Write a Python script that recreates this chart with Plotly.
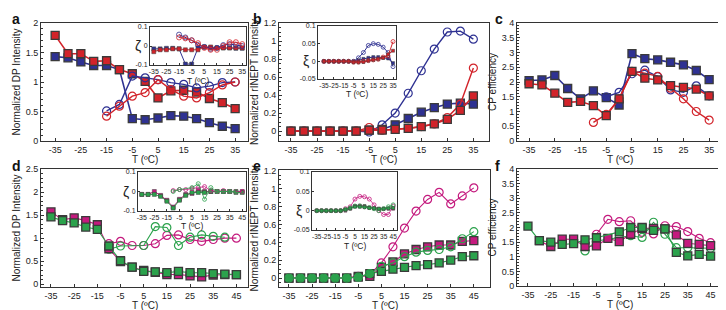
import plotly.graph_objects as go

# ---------------- data ----------------
T35 = [-35, -30, -25, -20, -15, -10, -5, 0, 5, 10, 15, 20, 25, 30, 35]
T35_from_m15 = [-15, -10, -5, 0, 5, 10, 15, 20, 25, 30, 35]
T45 = [-35, -30, -25, -20, -15, -10, -5, 0, 5, 10, 15, 20, 25, 30, 35, 40, 45]

# tick labels (hyphen minus as in the original figure)
X35 = [-35, -25, -15, -5, 5, 15, 25, 35]
X35_text = ["-35", "-25", "-15", "-5", "5", "15", "25", "35"]
X45 = [-35, -25, -15, -5, 5, 15, 25, 35, 45]
X45_text = ["-35", "-25", "-15", "-5", "5", "15", "25", "35", "45"]
Z_ticks = [-0.1, 0, 0.1]
Z_text = ["-0.1", "0", "0.1"]
XI_ticks = [-0.05, 0, 0.05, 0.1]
XI_text = ["-0.05", "0", "0.05", "0.1"]

# panel a: normalized DP intensity
a_blue_sq = [1.43, 1.41, 1.34, 1.28, 1.28, 1.21, 0.38, 0.36, 0.39, 0.43, 0.42, 0.38, 0.31, 0.25, 0.21]
a_red_sq = [1.79, 1.48, 1.48, 1.35, 1.36, 1.21, 1.14, 1.01, 0.73, 0.85, 0.86, 0.83, 0.72, 0.65, 0.55]
a_blue_ci = [0.51, 0.62, 1.10, 1.07, 1.04, 0.99, 0.96, 0.90, 0.93, 0.99, 1.00]
a_red_ci = [0.42, 0.59, 0.76, 0.82, 1.04, 0.87, 0.76, 0.73, 0.82, 0.95, 1.00]

# inset a: zeta
ia_blue_sq = [-0.015, -0.015, -0.012, -0.012, -0.015, -0.095, -0.095, -0.01, -0.005, -0.01, -0.01, -0.01, -0.01, -0.012, -0.012]
ia_red_sq = [-0.03, -0.02, -0.02, -0.015, -0.015, -0.02, -0.02, -0.02, -0.005, -0.005, -0.01, -0.01, -0.01, -0.01, -0.01]
ia_blue_ci = [0.06, 0.045, 0.03, 0.005, -0.005, -0.015, -0.01, 0.005, 0.01, 0.005, 0.0]
ia_red_ci = [0.045, 0.04, 0.03, 0.015, -0.01, -0.02, -0.02, 0.0, 0.02, 0.02, 0.01]

# panel b: normalized rINEPT intensity
b_blue_ci = [0, 0, 0, 0, 0, 0, -0.01, 0.07, 0.20, 0.42, 0.67, 0.91, 1.10, 1.11, 1.02]
b_blue_sq = [0, 0, 0, 0, 0, 0, 0.01, 0.02, 0.07, 0.14, 0.21, 0.26, 0.30, 0.31, 0.30]
b_red_sq = [0, 0, 0, 0, 0, 0, 0.01, 0.01, 0.02, 0.03, 0.05, 0.08, 0.13, 0.23, 0.39]
b_red_ci = [0, 0, 0, 0, 0, 0, 0.04, 0.01, 0.02, 0.03, 0.05, 0.08, 0.15, 0.30, 0.70]

# inset b: xi
ib_blue_ci = [0, 0, 0, 0, 0, 0, 0.0, 0.01, 0.025, 0.045, 0.05, 0.048, 0.04, 0.025, -0.015]
ib_blue_sq = [0, 0, 0, 0, 0, 0, 0.0, 0.003, 0.007, 0.01, 0.012, 0.012, 0.01, 0.008, -0.005]
ib_red_sq = [0, 0, 0, 0, 0, 0, -0.003, -0.003, -0.002, 0.002, 0.004, 0.006, 0.01, 0.02, 0.03]
ib_red_ci = [0, 0, 0, 0, 0, 0, -0.002, -0.002, 0.0, 0.002, 0.004, 0.006, 0.012, 0.015, 0.056]

# panel c: CP efficiency
T_c_blue_ci = [-5, 0, 5, 10, 15, 20, 25, 30, 35]
T_c_red_ci = [-10, -5, 0, 5, 10, 15, 20, 25, 30, 35]
c_blue_sq = [2.05, 2.07, 2.22, 1.78, 1.43, 1.70, 1.47, 1.22, 2.96, 2.79, 2.75, 2.67, 2.58, 2.39, 2.08]
c_red_sq = [1.94, 1.90, 1.62, 1.31, 1.34, 1.20, 0.86, 1.43, 2.36, 2.13, 2.07, 1.88, 1.82, 1.76, 1.53]
c_blue_ci = [1.50, 1.65, 2.28, 2.40, 2.18, 1.73, 1.65, 1.87, 1.53]
c_red_ci = [0.63, 0.90, 1.43, 2.36, 2.30, 2.19, 1.79, 1.43, 1.00, 0.71]

# panel d: normalized DP intensity
T_d_mag_ci = [-10, -5, 0, 5, 10, 15, 20, 25, 30, 35, 40, 45]
T_d_grn_ci = [-10, -5, 5, 10, 15, 20, 25, 30, 35, 40]
d_mag_sq = [1.57, 1.40, 1.44, 1.38, 1.29, 0.77, 0.49, 0.37, 0.30, 0.26, 0.21, 0.21, 0.18, 0.16, 0.20, 0.21, 0.21]
d_grn_sq = [1.46, 1.38, 1.33, 1.24, 1.19, 0.83, 0.51, 0.37, 0.28, 0.27, 0.25, 0.28, 0.25, 0.25, 0.23, 0.22, 0.21]
d_mag_ci = [0.88, 0.93, 0.84, 0.84, 0.88, 1.06, 1.07, 0.97, 0.93, 0.97, 1.00, 1.00]
d_grn_ci = [0.76, 0.83, 0.84, 1.25, 1.23, 0.84, 1.02, 1.07, 1.04, 1.02]

# inset d: zeta
id_mag_sq = [-0.015, -0.015, 0.0, -0.02, -0.045, -0.08, -0.04, -0.015, -0.01, 0.005, 0.0, 0.0, 0.0, 0.0, 0.0, 0.0, 0.0]
id_grn_sq = [-0.015, -0.015, -0.015, -0.025, -0.05, -0.085, -0.045, -0.02, -0.005, -0.005, -0.005, 0.0, 0.0, 0.0, 0.0, -0.005, -0.005]
id_mag_ci = [0.005, 0.01, 0.01, 0.015, 0.02, 0.025, 0.005, 0.0, 0.005, 0.0, 0.0, 0.0]
id_grn_ci = [0.0, 0.01, 0.02, 0.04, -0.04, 0.02, 0.0, 0.0, 0.0, 0.0]

# panel e: normalized rINEPT intensity
e_mag_ci = [0, 0, 0, 0, 0, 0, 0.02, 0.04, 0.17, 0.35, 0.56, 0.75, 0.88, 0.96, 0.83, 0.92, 1.01]
e_mag_sq = [0, 0, 0, 0, 0, 0, 0.02, 0.02, 0.12, 0.18, 0.27, 0.32, 0.35, 0.37, 0.37, 0.41, 0.42]
e_grn_ci = [0, 0, 0, 0, 0, 0, 0.01, 0.05, 0.13, 0.17, 0.24, 0.29, 0.31, 0.32, 0.35, 0.44, 0.52]
e_grn_sq = [0, 0, 0, 0, 0, 0, 0.01, 0.05, 0.075, 0.10, 0.12, 0.14, 0.15, 0.17, 0.20, 0.24, 0.25]

# inset e: xi
ie_mag_ci = [0, 0, 0, 0, 0, 0, 0.005, 0.01, 0.03, 0.037, 0.036, 0.03, 0.015, 0.0, -0.01, -0.01, 0.012]
ie_mag_sq = [0, 0, 0, 0, 0, 0, 0.0, 0.005, 0.012, 0.013, 0.012, 0.008, 0.006, 0.005, 0.005, 0.005, 0.005]
ie_grn_sq = [0, 0, 0, 0, 0, 0, 0.003, 0.006, 0.01, 0.01, 0.009, 0.007, 0.006, 0.005, 0.005, 0.006, 0.007]
ie_grn_ci = [0, 0, 0, 0, 0, 0, 0.003, 0.007, 0.012, 0.012, 0.01, 0.008, 0.005, 0.0, 0.005, 0.01, 0.015]

# panel f: CP efficiency
T_f_grn_sq = [-35, -30, -25, -20, -15, -10, -5, 5, 10, 15, 20, 25, 30, 35, 40, 45]
T_f_mag_sq = [-30, -25, -20, -15, -10, -5, 0, 5, 10, 15, 20, 25, 30, 35, 40, 45]
T_f_mag_ci = [-5, 0, 5, 10, 15, 20, 25, 30, 35, 40, 45]
T_f_grn_ci = [-10, -5, 5, 10, 15, 20, 25, 30, 35, 40, 45]
f_grn_sq = [2.05, 1.55, 1.50, 1.42, 1.45, 1.58, 1.65, 1.85, 2.00, 2.00, 1.90, 1.95, 1.15, 1.03, 1.08, 1.02]
f_mag_sq = [1.55, 1.35, 1.60, 1.60, 1.35, 1.37, 1.63, 1.52, 1.77, 1.97, 1.97, 1.95, 1.75, 1.46, 1.42, 1.38]
f_mag_ci = [1.77, 2.28, 2.20, 2.23, 1.83, 1.78, 2.06, 2.03, 1.86, 1.63, 1.48]
f_grn_ci = [1.20, 1.54, 1.66, 1.72, 1.66, 2.18, 1.77, 1.31, 1.31, 1.29, 1.29]

# ---------------- style ----------------
BLUE = "#2E3192"
RED = "#D2232A"
MAG = "#C41A7E"
GRN = "#2BA24C"
FONT = "Liberation Sans, Arial, sans-serif"

fig = go.Figure()


def sq(x, y, color, ax, size=8, lw=1.6):
    fig.add_trace(go.Scatter(
        x=x, y=y, mode="lines+markers", xaxis="x" + ax, yaxis="y" + ax,
        line=dict(color=color, width=lw),
        marker=dict(symbol="square", size=size, color=color,
                    line=dict(color="#3a3a3a", width=1.3 if size > 5 else 0.5)),
        showlegend=False, hoverinfo="skip"))


def ci(x, y, color, ax, size=8, lw=1.4):
    fig.add_trace(go.Scatter(
        x=x, y=y, mode="lines+markers", xaxis="x" + ax, yaxis="y" + ax,
        line=dict(color=color, width=lw),
        marker=dict(symbol="circle-open", size=size, color=color,
                    line=dict(color=color, width=1.2 if size > 5 else 0.8)),
        showlegend=False, hoverinfo="skip"))


# panel a
sq(T35, a_blue_sq, BLUE, "")
sq(T35, a_red_sq, RED, "")
ci(T35_from_m15, a_blue_ci, BLUE, "")
ci(T35_from_m15, a_red_ci, RED, "")
# inset a (7)
sq(T35, ia_blue_sq, BLUE, "7", size=4, lw=1)
sq(T35, ia_red_sq, RED, "7", size=4, lw=1)
ci(T35_from_m15, ia_blue_ci, BLUE, "7", size=5, lw=1)
ci(T35_from_m15, ia_red_ci, RED, "7", size=5, lw=1)

# panel b (2)
ci(T35, b_blue_ci, BLUE, "2")
sq(T35, b_blue_sq, BLUE, "2")
ci(T35, b_red_ci, RED, "2")
sq(T35, b_red_sq, RED, "2")
# inset b (8)
ci(T35, ib_blue_ci, BLUE, "8", size=4, lw=1)
sq(T35, ib_blue_sq, BLUE, "8", size=3, lw=1)
ci(T35, ib_red_ci, RED, "8", size=4, lw=1)
sq(T35, ib_red_sq, RED, "8", size=3, lw=1)

# panel c (3)
sq(T35, c_blue_sq, BLUE, "3")
ci(T_c_blue_ci, c_blue_ci, BLUE, "3")
ci(T_c_red_ci, c_red_ci, RED, "3")
sq(T35, c_red_sq, RED, "3")

# panel d (4)
ci(T_d_mag_ci, d_mag_ci, MAG, "4", lw=1.1)
ci(T_d_grn_ci, d_grn_ci, GRN, "4", lw=1.1)
sq(T45, d_mag_sq, MAG, "4", lw=1.1)
sq(T45, d_grn_sq, GRN, "4", lw=1.1)
# inset d (9)
sq(T45, id_mag_sq, MAG, "9", size=4, lw=1)
sq(T45, id_grn_sq, GRN, "9", size=4, lw=1)
ci(T_d_mag_ci, id_mag_ci, MAG, "9", size=4, lw=0.8)
ci(T_d_grn_ci, id_grn_ci, GRN, "9", size=4, lw=0.8)

# panel e (5)
ci(T45, e_mag_ci, MAG, "5", lw=1.1)
sq(T45, e_mag_sq, MAG, "5", lw=1.1)
sq(T45, e_grn_sq, GRN, "5", lw=1.1)
ci(T45, e_grn_ci, GRN, "5", lw=1.1)
# inset e (10)
ci(T45, ie_mag_ci, MAG, "10", size=4, lw=0.8)
sq(T45, ie_mag_sq, MAG, "10", size=3, lw=1)
ci(T45, ie_grn_ci, GRN, "10", size=4, lw=0.8)
sq(T45, ie_grn_sq, GRN, "10", size=3, lw=1)

# panel f (6)
ci(T_f_mag_ci, f_mag_ci, MAG, "6", lw=1.1)
ci(T_f_grn_ci, f_grn_ci, GRN, "6", lw=1.1)
sq(T_f_mag_sq, f_mag_sq, MAG, "6", lw=1.1)
sq(T_f_grn_sq, f_grn_sq, GRN, "6", lw=1.1)

# ---------------- axes ----------------
W, H = 726, 310


def dx(a, b):
    return [a / W, b / W]


def dy(top, bottom):
    return [1 - bottom / H, 1 - top / H]


def axis(domain, rng, tickvals, anchor, title=None, fs=9, tfs=10,
         minor=None, standoff=None, ticklen=3, ticktext=None):
    d = dict(domain=domain, range=rng, tickvals=tickvals, anchor=anchor,
             showline=True, mirror=True, linecolor="#333", linewidth=1,
             ticks="inside", ticklen=ticklen, tickcolor="#333", showgrid=False,
             zeroline=False, automargin=False, tickangle=0,
             tickfont=dict(size=fs, family=FONT, color="#222"))
    if ticktext is not None:
        d["ticktext"] = ticktext
    if title is not None:
        d["title"] = dict(text=title, font=dict(size=tfs, family=FONT, color="#222"))
        if standoff is not None:
            d["title"]["standoff"] = standoff
    if minor is not None:
        d["minor"] = dict(dtick=minor, ticks="inside", ticklen=2, tickcolor="#333")
    return d


TT = "T (ºC)"

layout = dict(
    width=W, height=H, margin=dict(l=0, r=0, t=0, b=0),
    paper_bgcolor="white", plot_bgcolor="rgba(0,0,0,0)",
    font=dict(family=FONT, color="#222"),
)

# main panels
layout["xaxis"] = axis(dx(33, 240), [-40.5, 40], X35, "y", ticktext=X35_text)
layout["yaxis"] = axis(dy(15, 133), [0, 2], [0, 0.5, 1, 1.5, 2], "x",
                       "Normalized DP Intensity", minor=0.1, standoff=3)
layout["xaxis2"] = axis(dx(271, 481), [-39.6, 41], X35, "y2", ticktext=X35_text)
layout["yaxis2"] = axis(dy(15, 133), [-0.11, 1.2], [0, 0.2, 0.4, 0.6, 0.8, 1, 1.2], "x2",
                        "Normalized rINEPT Intensity", minor=0.05, standoff=3)
layout["xaxis3"] = axis(dx(509, 714), [-39.7, 40], X35, "y3", ticktext=X35_text)
layout["yaxis3"] = axis(dy(15, 133), [0, 4], [0, 0.5, 1, 1.5, 2, 2.5, 3, 3.5, 4], "x3",
                        "CP efficiency", minor=0.1, standoff=3)
layout["xaxis4"] = axis(dx(33, 240), [-39.3, 50], X45, "y4", ticktext=X45_text)
layout["yaxis4"] = axis(dy(161, 279), [-0.06, 2.5], [0, 0.5, 1, 1.5, 2, 2.5], "x4",
                        "Normalized DP Intensity", minor=0.1, standoff=3)
layout["xaxis5"] = axis(dx(271, 482), [-39.3, 52], X45, "y5", ticktext=X45_text)
layout["yaxis5"] = axis(dy(162, 279), [-0.1, 1.21], [0, 0.2, 0.4, 0.6, 0.8, 1, 1.2], "x5",
                        "Normalized rINEPT Intensity", minor=0.05, standoff=3)
layout["xaxis6"] = axis(dx(509, 714), [-39.8, 50], X45, "y6", ticktext=X45_text)
layout["yaxis6"] = axis(dy(161, 278), [0, 4], [0, 0.5, 1, 1.5, 2, 2.5, 3, 3.5, 4], "x6",
                        "CP efficiency", minor=0.1, standoff=3)

# insets
layout["xaxis7"] = axis(dx(142, 238), [-38, 38], X35, "y7", fs=7, ticklen=2, ticktext=X35_text)
layout["yaxis7"] = axis(dy(19, 57), [-0.1, 0.1], Z_ticks, "x7", fs=7, ticklen=2, ticktext=Z_text)
layout["xaxis8"] = axis(dx(310, 388), [-41, 38], X35, "y8", fs=6.5, ticklen=2, ticktext=X35_text)
layout["yaxis8"] = axis(dy(18, 71), [-0.05, 0.1], XI_ticks, "x8", fs=7, ticklen=2, ticktext=XI_text)
layout["xaxis9"] = axis(dx(130, 238), [-38, 48], X45, "y9", fs=7, ticklen=2, ticktext=X45_text)
layout["yaxis9"] = axis(dy(164, 203), [-0.1, 0.1], Z_ticks, "x9", fs=7, ticklen=2, ticktext=Z_text)
layout["xaxis10"] = axis(dx(304, 389), [-40, 49], X45, "y10", fs=6.5, ticklen=2, ticktext=X45_text)
layout["yaxis10"] = axis(dy(164, 222), [-0.05, 0.1], XI_ticks, "x10", fs=7, ticklen=2, ticktext=XI_text)

# panel letters
letters = [("a", 2, 1), ("b", 243, 1), ("c", 485, 1), ("d", 2, 148), ("e", 243, 148), ("f", 485, 148)]
annotations = [
    dict(text="<b>%s</b>" % t, x=px / W, y=1 - py / H, xref="paper", yref="paper",
         xanchor="left", yanchor="top", showarrow=False,
         font=dict(size=14, family=FONT, color="#111"))
    for t, px, py in letters
]
# x-axis titles (T) placed just under the tick labels
xtitles = [("x", 152, 10), ("x2", 152, 10), ("x3", 152, 10),
           ("x4", 297, 10), ("x5", 297, 10), ("x6", 296, 10),
           ("x7", 73, 8.5), ("x8", 86, 8.5), ("x9", 218, 8.5), ("x10", 238, 8.5)]
for ax, py, fs in xtitles:
    annotations.append(dict(text=TT, x=0.5, y=1 - py / H, xref=ax + " domain", yref="paper",
                            xanchor="center", yanchor="middle", showarrow=False,
                            font=dict(size=fs, family=FONT, color="#222")))
# greek axis titles of insets (horizontal, at zero level of each inset)
greek = [("ζ", "x7 domain", "y7", -0.125), ("ξ", "x8 domain", "y8", -0.16),
         ("ζ", "x9 domain", "y9", -0.115), ("ξ", "x10 domain", "y10", -0.15)]
for sym, xr, yr, xp in greek:
    annotations.append(dict(text=sym, x=xp, y=0, xref=xr, yref=yr,
                            xanchor="center", yanchor="middle", showarrow=False,
                            font=dict(size=14, family=FONT, color="#222")))
layout["annotations"] = annotations

fig.update_layout(**layout)
fig.write_html("out.html")
